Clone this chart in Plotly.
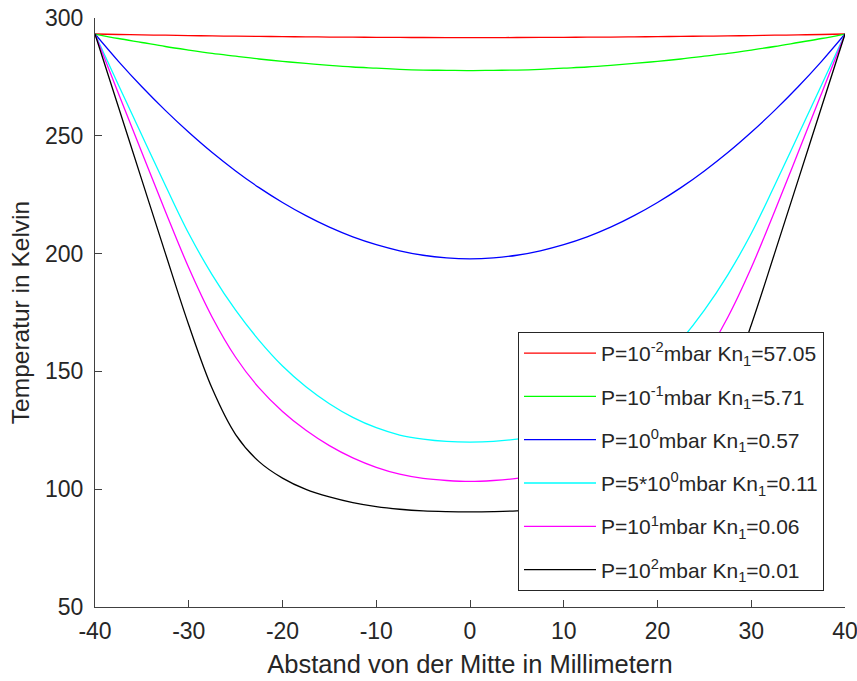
import plotly.graph_objects as go

x_mm = [-40, -37.5, -35, -32.5, -30, -27.5, -25, -22.5, -20, -17.5, -15, -12.5, -10, -7.5, -5, -2.5, 0,
        2.5, 5, 7.5, 10, 12.5, 15, 17.5, 20, 22.5, 25, 27.5, 30, 32.5, 35, 37.5, 40]

t_p1e_2 = [293.2, 293.0, 292.85, 292.7, 292.55, 292.4, 292.3, 292.2, 292.1, 292.0, 291.9, 291.85, 291.8, 291.75, 291.72, 291.7, 291.7,
           291.7, 291.72, 291.75, 291.8, 291.85, 291.9, 292.0, 292.1, 292.2, 292.3, 292.4, 292.55, 292.7, 292.85, 293.0, 293.2]
t_p1e_1 = [293.2, 291.3, 289.6, 287.9, 286.4, 285.0, 283.8, 282.6, 281.6, 280.7, 279.9, 279.2, 278.7, 278.2, 277.9, 277.8, 277.7,
           277.8, 277.9, 278.2, 278.7, 279.2, 279.9, 280.7, 281.6, 282.6, 283.8, 285.0, 286.4, 287.9, 289.6, 291.3, 293.2]
t_p1e0 = [293.2, 281.6, 270.8, 260.8, 251.5, 242.9, 235.1, 228.0, 221.7, 216.1, 211.2, 207.1, 203.8, 201.2, 199.3, 198.2, 197.8,
          198.2, 199.3, 201.2, 203.8, 207.1, 211.2, 216.1, 221.7, 228.0, 235.1, 242.9, 251.5, 260.8, 270.8, 281.6, 293.2]
t_p5e0 = [293.2, 271.6, 250.2, 229.0, 208.5, 191.0, 176.0, 163.2, 152.3, 143.5, 136.3, 130.5, 126.1, 123.0, 121.3, 120.3, 120.0,
          120.3, 121.3, 123.0, 126.1, 130.5, 136.3, 143.5, 152.3, 163.2, 176.0, 191.0, 208.5, 229.0, 250.2, 271.6, 293.2]
t_p1e1 = [293.2, 268.0, 242.9, 218.0, 194.0, 173.0, 156.0, 143.0, 133.0, 125.0, 118.5, 113.3, 109.3, 106.4, 104.6, 103.7, 103.3,
          103.7, 104.6, 106.4, 109.3, 113.3, 118.5, 125.0, 133.0, 143.0, 156.0, 173.0, 194.0, 218.0, 242.9, 268.0, 293.2]
t_p1e2 = [293.2, 262.2, 231.2, 200.2, 169.7, 142.7, 123.2, 111.7, 104.7, 99.9, 96.7, 94.3, 92.6, 91.5, 90.8, 90.5, 90.4,
          90.5, 90.8, 91.5, 92.6, 94.3, 96.7, 99.9, 104.7, 111.7, 123.2, 142.7, 169.7, 200.2, 231.2, 262.2, 293.2]

series_labels = [
    "P=10<sup>-2</sup>mbar Kn<sub>1</sub>=57.05",
    "P=10<sup>-1</sup>mbar Kn<sub>1</sub>=5.71",
    "P=10<sup>0</sup>mbar Kn<sub>1</sub>=0.57",
    "P=5*10<sup>0</sup>mbar Kn<sub>1</sub>=0.11",
    "P=10<sup>1</sup>mbar Kn<sub>1</sub>=0.06",
    "P=10<sup>2</sup>mbar Kn<sub>1</sub>=0.01",
]
series_values = [t_p1e_2, t_p1e_1, t_p1e0, t_p5e0, t_p1e1, t_p1e2]
series_colors = ["#FF0000", "#00FF00", "#0000FF", "#00FFFF", "#FF00FF", "#000000"]

x_ticks = [-40, -30, -20, -10, 0, 10, 20, 30, 40]
y_ticks = [50, 100, 150, 200, 250, 300]

FONT = "Liberation Sans, Arial, Helvetica, sans-serif"
AX = "#404040"

fig = go.Figure()
for i, (lab, vals, col) in enumerate(zip(series_labels, series_values, series_colors)):
    fig.add_trace(go.Scatter(
        x=x_mm, y=vals, mode="lines", name=lab, legendgroup=f"g{i}",
        line=dict(color=col, width=1.3, shape="spline", smoothing=1.0),
    ))

fig.update_layout(
    width=857, height=681,
    margin=dict(l=95, r=12, t=18, b=74),
    paper_bgcolor="white", plot_bgcolor="white",
    font=dict(family=FONT, color="#262626"),
    showlegend=True,
    legend=dict(
        x=0.564, y=0.467, xanchor="left", yanchor="top",
        bgcolor="white", bordercolor="#262626", borderwidth=1,
        font=dict(family=FONT, size=21, color="#262626"),
        tracegroupgap=13, itemwidth=72, traceorder="grouped",
    ),
)
fig.update_xaxes(
    range=[-40, 40], tickvals=x_ticks, ticktext=[str(v) for v in x_ticks],
    showgrid=False, zeroline=False, showline=True, linecolor=AX, linewidth=1,
    ticks="inside", ticklen=7, tickcolor=AX, tickwidth=1, automargin=False,
    ticklabeloverflow="allow", ticklabelstandoff=3,
    tickfont=dict(size=23, color="#262626"),
    title=dict(text="Abstand von der Mitte in Millimetern", font=dict(size=25.5, color="#262626"), standoff=12),
)
fig.update_yaxes(
    range=[50, 300], tickvals=y_ticks, ticktext=[str(v) for v in y_ticks],
    showgrid=False, zeroline=False, showline=True, linecolor=AX, linewidth=1,
    ticks="inside", ticklen=7, tickcolor=AX, tickwidth=1, automargin=False,
    ticklabeloverflow="allow", ticklabelstandoff=6,
    tickfont=dict(size=23, color="#262626"),
    title=dict(text="Temperatur in Kelvin", font=dict(size=24.5, color="#262626"), standoff=8),
)

fig.write_html("out.html")
